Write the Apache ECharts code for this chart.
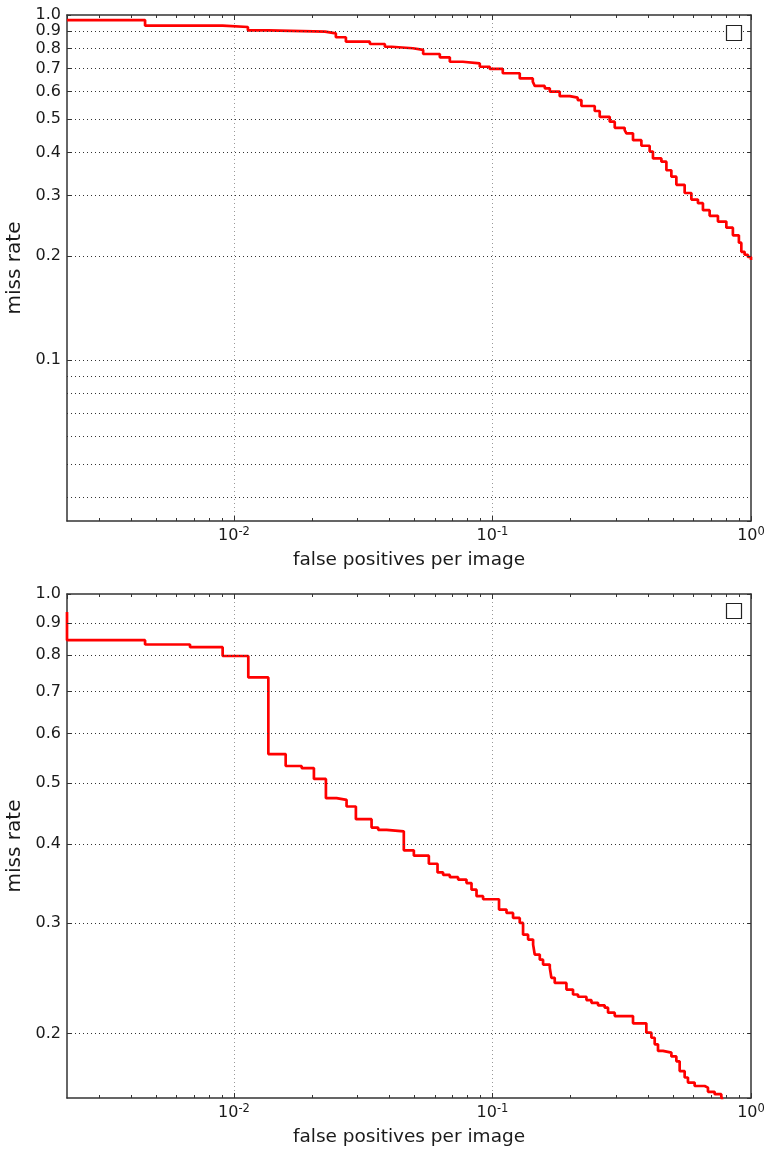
<!DOCTYPE html>
<html><head><meta charset="utf-8">
<script src="https://cdn.jsdelivr.net/npm/echarts@6/dist/echarts.min.js"></script>
<style>html,body{margin:0;padding:0;background:#fff}#chart{width:768px;height:1152px}</style>
</head><body><div id="chart"></div>
<script>
// ---- data ----
const xMin = 0.00226, xMax = 1;
const topYMin = 0.0342, botYMin = 0.158, yMax = 1;

const topFppi = [0.00226, 0.00453, 0.00904, 0.01132, 0.01358, 0.02249, 0.02478, 0.0271, 0.03356, 0.03834, 0.04071, 0.0492, 0.05393, 0.06256, 0.06839, 0.07677, 0.08932, 0.0976, 0.1096, 0.1275, 0.1432, 0.1457, 0.1593, 0.1666, 0.182, 0.199, 0.2136, 0.2208, 0.2486, 0.2599, 0.2841, 0.2971, 0.3246, 0.3296, 0.3496, 0.3767, 0.4055, 0.4176, 0.4502, 0.4707, 0.492, 0.5144, 0.5538, 0.588, 0.6234, 0.6518, 0.6918, 0.7449, 0.8028, 0.851, 0.8978, 0.9174, 0.9446, 0.9727, 1.0];
const topMissRate = [0.967, 0.931, 0.923, 0.903, 0.895, 0.885, 0.862, 0.837, 0.824, 0.809, 0.801, 0.792, 0.771, 0.754, 0.732, 0.724, 0.708, 0.698, 0.678, 0.655, 0.641, 0.623, 0.613, 0.600, 0.582, 0.576, 0.567, 0.545, 0.527, 0.507, 0.491, 0.471, 0.464, 0.454, 0.434, 0.418, 0.402, 0.384, 0.376, 0.355, 0.340, 0.322, 0.305, 0.292, 0.285, 0.272, 0.262, 0.252, 0.242, 0.230, 0.219, 0.206, 0.202, 0.199, 0.195];

const botFppi = [0.00226, 0.00226, 0.00453, 0.006761, 0.00904, 0.01136, 0.01358, 0.01585, 0.01827, 0.02038, 0.02268, 0.02494, 0.02726, 0.02962, 0.03406, 0.03612, 0.03894, 0.04539, 0.04964, 0.05673, 0.06129, 0.06442, 0.06839, 0.07362, 0.07932, 0.08296, 0.08675, 0.09198, 0.1060, 0.1133, 0.1201, 0.1275, 0.1313, 0.1373, 0.1436, 0.1457, 0.1524, 0.1569, 0.1666, 0.1690, 0.1741, 0.1932, 0.2049, 0.2142, 0.2309, 0.2414, 0.2560, 0.2717, 0.2799, 0.2971, 0.3496, 0.3937, 0.4118, 0.4241, 0.4368, 0.4566, 0.4921, 0.5144, 0.5297, 0.5538, 0.5703, 0.6053, 0.6619, 0.6816, 0.7233, 0.7676, 0.7765];
const botMissRate = [0.936, 0.8444, 0.8312, 0.8231, 0.797, 0.7367, 0.5566, 0.5328, 0.5287, 0.5082, 0.4735, 0.4707, 0.4593, 0.4385, 0.4253, 0.4218, 0.4194, 0.3912, 0.3836, 0.3725, 0.3608, 0.3575, 0.3546, 0.3515, 0.3471, 0.3388, 0.3308, 0.3271, 0.3149, 0.3111, 0.3055, 0.2999, 0.2873, 0.2822, 0.277, 0.2671, 0.2622, 0.2575, 0.2544, 0.2453, 0.2408, 0.235, 0.2308, 0.2289, 0.2261, 0.2239, 0.2218, 0.2199, 0.2159, 0.2133, 0.2077, 0.2007, 0.197, 0.1923, 0.1877, 0.1866, 0.184, 0.1807, 0.1744, 0.1703, 0.1672, 0.1651, 0.1641, 0.1616, 0.1602, 0.1589, 0.156];

const topYTickLabels = [0.9, 0.8, 0.7, 0.6, 0.5, 0.4, 0.3, 0.2];
const topYExtraGrid = [0.09, 0.08, 0.07, 0.06, 0.05, 0.04];
const botYTickLabels = [0.9, 0.8, 0.7, 0.6, 0.5, 0.4, 0.3, 0.2];
const xMinorTicks = [0.003, 0.004, 0.005, 0.006, 0.007, 0.008, 0.009,
  0.02, 0.03, 0.04, 0.05, 0.06, 0.07, 0.08, 0.09,
  0.2, 0.3, 0.4, 0.5, 0.6, 0.7, 0.8, 0.9];
const xName = 'false positives per image';
const yName = 'miss rate';

// ---- chart ----
const FONT = 'DejaVu Sans';
const TXT = '#1a1a1a';
const AX = '#333';
const TICK_FS = 16;
const grids = [
  {left: 67, right: 17, top: 15, height: 506, containLabel: false, outerBoundsMode: 'none'},
  {left: 67, right: 17, top: 594, height: 504, containLabel: false, outerBoundsMode: 'none'}
];
const gridW = 768 - 67 - 17;

function decorations(yMin, labeled, extra, gridH) {
  const xDec = gridW / Math.log10(xMax / xMin);
  const yDec = gridH / Math.log10(yMax / yMin);
  const gridStyle = {type: [1, 3], color: '#333', width: 1};
  const tickStyle = {type: 'solid', color: AX, width: 1};
  const items = [];
  labeled.forEach(v => items.push({
    yAxis: v, lineStyle: gridStyle,
    label: {show: true, position: 'start', distance: 6, formatter: v.toFixed(1),
      fontSize: TICK_FS, fontFamily: FONT, color: TXT}
  }));
  extra.forEach(v => items.push({yAxis: v, lineStyle: gridStyle, label: {show: false}}));
  const fx = Math.pow(10, 4 / xDec);
  labeled.forEach(v => {
    items.push([{coord: [xMin * 1.0001, v], lineStyle: tickStyle, label: {show: false}}, {coord: [xMin * fx, v]}]);
    items.push([{coord: [xMax / fx, v], lineStyle: tickStyle, label: {show: false}}, {coord: [xMax * 0.9999, v]}]);
  });
  const fy = Math.pow(10, 3 / yDec);
  xMinorTicks.forEach(v => {
    items.push([{coord: [v, yMin * 1.0001], lineStyle: tickStyle, label: {show: false}}, {coord: [v, yMin * fy]}]);
    items.push([{coord: [v, yMax / fy], lineStyle: tickStyle, label: {show: false}}, {coord: [v, yMax * 0.9999]}]);
  });
  return {
    silent: true, symbol: ['none', 'none'], animation: false,
    label: {show: false}, emphasis: {disabled: true},
    data: items
  };
}

function xAxes(gi) {
  const base = {
    type: 'log', logBase: 10, min: xMin, max: xMax, gridIndex: gi,
    axisLine: {show: true, lineStyle: {color: AX, width: 1.5}},
    axisTick: {show: true, inside: true, length: 5, lineStyle: {color: AX}}
  };
  return [
    Object.assign({}, base, {
      position: 'bottom',
      name: xName, nameLocation: 'middle', nameGap: 30,
      nameTextStyle: {fontSize: 18.5, fontFamily: FONT, color: TXT},
      axisLabel: {
        show: true, margin: 5, showMinLabel: false,
        formatter: v => '{b|10}{s|' + Math.round(Math.log10(v)) + '}',
        rich: {
          b: {fontSize: TICK_FS, fontFamily: FONT, color: TXT, lineHeight: 20},
          s: {fontSize: 11.5, fontFamily: FONT, color: TXT, lineHeight: 12, verticalAlign: 'top'}
        }
      },
      splitLine: {show: true, showMinLine: false, showMaxLine: false, lineStyle: {type: [1, 3], color: '#999', width: 1}}
    }),
    Object.assign({}, base, {
      position: 'top', axisLabel: {show: false}, splitLine: {show: false}
    })
  ];
}

function yAxes(gi, yMin) {
  const base = {
    type: 'log', logBase: 10, min: yMin, max: yMax, gridIndex: gi,
    axisLine: {show: true, lineStyle: {color: AX, width: 1.5}},
    axisTick: {show: true, inside: true, length: 4, lineStyle: {color: AX}}
  };
  return [
    Object.assign({}, base, {
      position: 'left',
      name: yName, nameLocation: 'middle', nameGap: 37,
      nameTextStyle: {fontSize: 20, fontFamily: FONT, color: TXT},
      axisLabel: {show: true, margin: 6, showMinLabel: false, fontSize: TICK_FS, fontFamily: FONT, color: TXT,
        formatter: v => v.toFixed(1)},
      splitLine: {show: true, showMinLine: false, showMaxLine: false, lineStyle: {type: [1, 3], color: '#333', width: 1}}
    }),
    Object.assign({}, base, {
      position: 'right', axisLabel: {show: false}, splitLine: {show: false}
    })
  ];
}

const lineStyle = {color: '#ff0000', width: 2.7};
const option = {
  animation: false,
  backgroundColor: '#fff',
  grid: grids,
  xAxis: xAxes(0).concat(xAxes(1)),
  yAxis: yAxes(0, topYMin).concat(yAxes(1, botYMin)),
  series: [
    {
      type: 'line', xAxisIndex: 0, yAxisIndex: 0, step: 'end', showSymbol: false, symbol: 'none',
      lineStyle: lineStyle, clip: true,
      data: topFppi.map((x, i) => [x, topMissRate[i]]),
      markLine: decorations(topYMin, topYTickLabels, topYExtraGrid, grids[0].height)
    },
    {
      type: 'line', xAxisIndex: 2, yAxisIndex: 2, step: 'end', showSymbol: false, symbol: 'none',
      lineStyle: lineStyle, clip: true,
      data: botFppi.map((x, i) => [x, botMissRate[i]]),
      markLine: decorations(botYMin, botYTickLabels, [], grids[1].height)
    }
  ],
  graphic: [
    {type: 'rect', shape: {x: 726.5, y: 25.5, width: 15, height: 15}, style: {fill: '#fff', stroke: '#222', lineWidth: 1.2}, z: 100},
    {type: 'rect', shape: {x: 726.5, y: 603.5, width: 15, height: 15}, style: {fill: '#fff', stroke: '#222', lineWidth: 1.2}, z: 100}
  ]
};
const chart = echarts.init(document.getElementById('chart'), null, {renderer: 'canvas'});
chart.setOption(option);
</script>
</body></html>
